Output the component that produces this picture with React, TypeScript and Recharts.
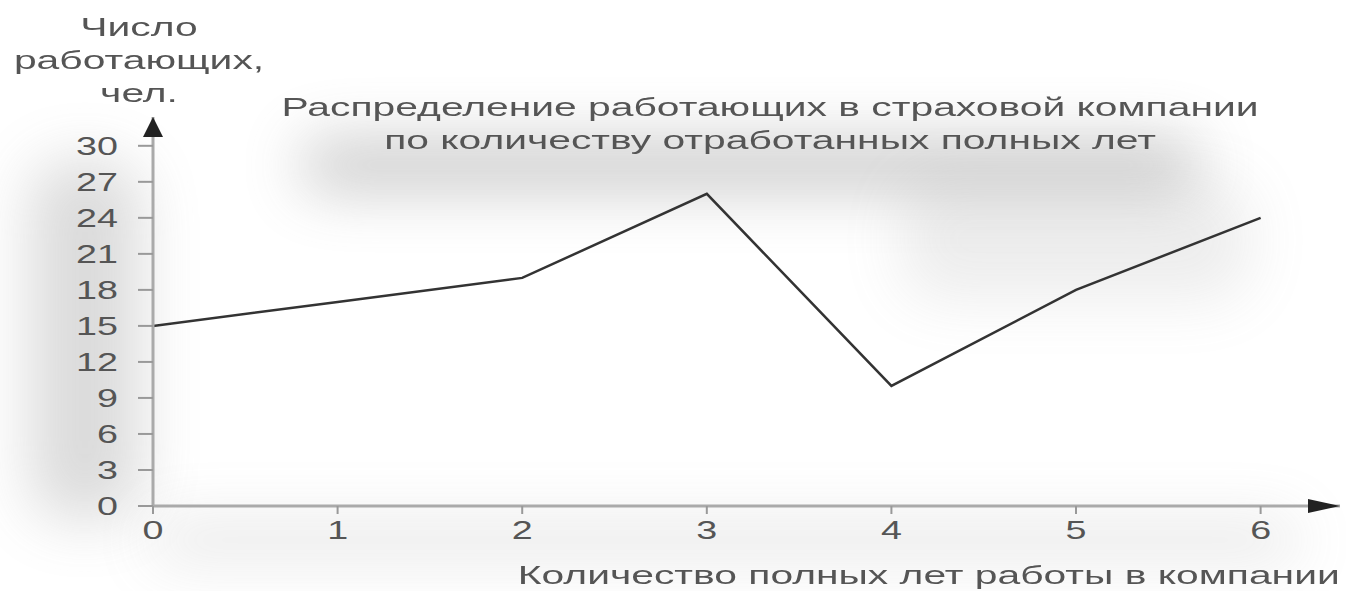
import { Line, LineChart, XAxis, YAxis } from "recharts";

const years = [0, 1, 2, 3, 4, 5, 6];
const workers = [15, 17, 19, 26, 10, 18, 24];
const yTicks = [0, 3, 6, 9, 12, 15, 18, 21, 24, 27, 30];
const titleLines = ["Распределение работающих в страховой компании", "по количеству отработанных полных лет"];
const yLabelLines = ["Число", "работающих,", "чел."];
const xLabel = "Количество полных лет работы в компании";

const data = years.map((year, i) => ({ year, workers: workers[i] }));

const FONT = "'Liberation Sans', Arial, sans-serif";
const STRETCH = 1.45;
const LABEL_STRETCH = 1.54;
const TEXT = "#555";

function StretchTick(props: any) {
  const { x, y, payload, textAnchor } = props;
  return (
    <g transform={`translate(${x},${y})`}>
      <text
        transform={`scale(${STRETCH},1)`}
        textAnchor={textAnchor}
        dy="0.36em"
        fill={TEXT}
        fontSize={26}
        fontFamily={FONT}
      >
        {payload.value}
      </text>
    </g>
  );
}

function Label({ text, left, top, align }: { text: string; left: number; top: number; align: "center" | "right" }) {
  return (
    <div
      style={{
        position: "absolute",
        left: align === "right" ? undefined : left,
        right: align === "right" ? 1346 - left : undefined,
        top,
        width: align === "center" ? 0 : undefined,
        display: "flex",
        justifyContent: "center",
        whiteSpace: "nowrap",
        fontFamily: FONT,
        fontSize: 26.5,
        color: TEXT,
        transform: `scaleX(${LABEL_STRETCH})`,
        transformOrigin: align === "right" ? "right" : "center",
        lineHeight: "30px",
      }}
    >
      {text}
    </div>
  );
}

function Shadow({ left, top, width, height, opacity }: { left: number; top: number; width: number; height: number; opacity: number }) {
  return (
    <div
      style={{
        position: "absolute",
        left,
        top,
        width,
        height,
        background: "#888",
        opacity,
        filter: "blur(30px)",
        borderRadius: 40,
      }}
    />
  );
}

export default function App() {
  return (
    <div style={{ position: "absolute", left: 0, top: 0, width: 1346, height: 591, background: "#fff", overflow: "hidden" }}>
      <Shadow left={300} top={140} width={900} height={50} opacity={0.45} />
      <Shadow left={30} top={160} width={110} height={360} opacity={0.3} />
      <Shadow left={150} top={520} width={1150} height={40} opacity={0.2} />
      <Shadow left={900} top={180} width={350} height={120} opacity={0.15} />

      {titleLines.map((t, i) => (
        <Label key={t} text={t} left={770} top={92 + i * 33} align="center" />
      ))}
      {yLabelLines.map((t, i) => (
        <Label key={t} text={t} left={139} top={12 + i * 33} align="center" />
      ))}
      <Label text={xLabel} left={1340} top={560} align="right" />

      <div style={{ position: "absolute", left: 0, top: 0 }}>
        <LineChart width={1346} height={591} data={data} margin={{ top: 117, right: 6, bottom: 45, left: 93 }}>
          <defs>
            <marker id="arrowX" markerUnits="userSpaceOnUse" markerWidth={34} markerHeight={16} refX={32} refY={7} orient="auto">
              <path d="M0,0 L32,7 L0,14 z" fill="#222" />
            </marker>
            <marker id="arrowY" markerUnits="userSpaceOnUse" markerWidth={22} markerHeight={24} refX={20} refY={10} orient="auto-start-reverse">
              <path d="M0,0 L20,10 L0,20 z" fill="#222" />
            </marker>
          </defs>
          <XAxis
            dataKey="year"
            type="number"
            domain={[0, 6.43]}
            ticks={years}
            allowDataOverflow
            height={40}
            tickSize={8}
            tickMargin={16}
            tickLine={{ stroke: "#999", strokeWidth: 2 }}
            axisLine={{ stroke: "#aaa", strokeWidth: 3, markerEnd: "url(#arrowX)" }}
            tick={<StretchTick />}
          />
          <YAxis
            type="number"
            domain={[0, 32.4]}
            ticks={yTicks}
            allowDataOverflow
            width={60}
            tickSize={15}
            tickMargin={20}
            tickLine={{ stroke: "#999", strokeWidth: 2 }}
            axisLine={{ stroke: "#aaa", strokeWidth: 3, markerStart: "url(#arrowY)" }}
            tick={<StretchTick />}
          />
          <Line
            type="linear"
            dataKey="workers"
            stroke="#333"
            strokeWidth={2.5}
            dot={false}
            activeDot={false}
            isAnimationActive={false}
          />
        </LineChart>
      </div>
    </div>
  );
}
